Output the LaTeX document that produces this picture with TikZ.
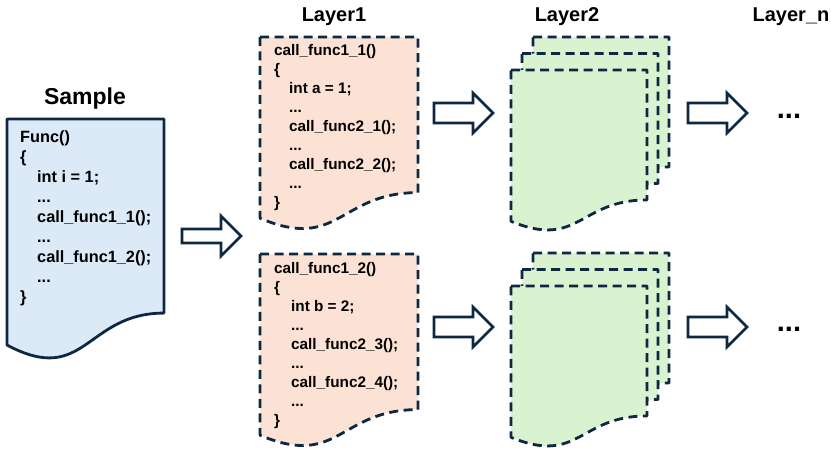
\documentclass[tikz,border=0pt]{standalone}
\usepackage{fontspec}
\setmainfont{Liberation Sans}
\usetikzlibrary{positioning}

\definecolor{inkline}{HTML}{0E2841}
\definecolor{samplefill}{HTML}{DCEAF7}
\definecolor{layerfill}{HTML}{FBE2D5}
\definecolor{stackfill}{HTML}{D9F2D0}

\tikzset{
  docline/.style={draw=inkline, line width=2.8pt, line join=round},
  dashdoc/.style={docline, dash pattern=on 9pt off 5.5pt},
  codetext/.style={align=left, anchor=north west, inner sep=0pt},
  titletext/.style={font=\bfseries\fontsize{20}{24}\selectfont},
  arrowline/.style={draw=inkline, line width=2.8pt, fill=white, line join=miter},
  pics/fatarrow/.style={code={
    \draw[arrowline] (0,-#1) -- (39,-#1) -- (39,-20) -- (59,0) -- (39,20) -- (39,#1) -- (0,#1) -- cycle;
  }},
}

% page with a wavy bottom: style, x, y, width, height
\newcommand{\docpage}[5]{%
  \path[#1] (#2,#3) -- ({#2+#4},#3) -- ({#2+#4},{#3+0.802*#5})
    .. controls ({#2+0.5*#4},{#3+0.802*#5}) and ({#2+0.5*#4},{#3+1.1075*#5}) .. (#2,{#3+0.934*#5}) -- cycle;}

\begin{document}
\begin{tikzpicture}[x=1pt,y=-1pt]
  \useasboundingbox (0,0) rectangle (831,450);

  % sample
  \docpage{docline,fill=samplefill}{7}{119}{157}{242}
  \node[titletext,font=\bfseries\fontsize{23}{27}\selectfont] (sample-title) at (85,99) {Sample};
  \node[codetext,font=\bfseries\fontsize{16.3}{20}\selectfont] (sample-code) at (20,130)
    {Func()\\ \{\\ \hspace*{17pt}int i = 1;\\ \hspace*{17pt}...\\ \hspace*{17pt}call\_func1\_1();\\
     \hspace*{17pt}...\\ \hspace*{17pt}call\_func1\_2();\\ \hspace*{17pt}...\\ \}};

  \pic at (182,236) {fatarrow=7};

  % layer 1
  \node[titletext] (layer1-title) at (334,17) {Layer1};
  \docpage{dashdoc,fill=layerfill}{260}{37}{158}{194}
  \node[codetext,font=\bfseries\fontsize{15.3}{19}\selectfont] (call11-code) at (274,44)
    {call\_func1\_1()\\ \{\\ \hspace*{15pt}int a = 1;\\ \hspace*{15pt}...\\ \hspace*{15pt}call\_func2\_1();\\
     \hspace*{15pt}...\\ \hspace*{15pt}call\_func2\_2();\\ \hspace*{15pt}...\\ \}};
  \docpage{dashdoc,fill=layerfill}{260}{254}{158}{194}
  \node[codetext,font=\bfseries\fontsize{15.3}{19}\selectfont] (call12-code) at (274,262)
    {call\_func1\_2()\\ \{\\ \hspace*{17pt}int b = 2;\\ \hspace*{17pt}...\\ \hspace*{17pt}call\_func2\_3();\\
     \hspace*{17pt}...\\ \hspace*{17pt}call\_func2\_4();\\ \hspace*{17pt}...\\ \}};

  \pic at (434,113) {fatarrow=10};
  \pic at (434,327) {fatarrow=10};

  % layer 2
  \node[titletext] (layer2-title) at (567,17) {Layer2};
  \foreach \k in {2,1,0} {
    \docpage{dashdoc,fill=stackfill}{511+11*\k}{70-16.5*\k}{136}{162}
    \docpage{dashdoc,fill=stackfill}{511+11*\k}{286-16.5*\k}{136}{162}
  }

  \pic at (688,113) {fatarrow=10};
  \pic at (688,327) {fatarrow=10};

  % layer n
  \node[titletext] (layern-title) at (791,17) {Layer\_n};
  \node[font=\bfseries\fontsize{29}{31}\selectfont] (dots-top) at (789,116) {...};
  \node[font=\bfseries\fontsize{29}{31}\selectfont] (dots-bottom) at (789,329) {...};
\end{tikzpicture}
\end{document}
